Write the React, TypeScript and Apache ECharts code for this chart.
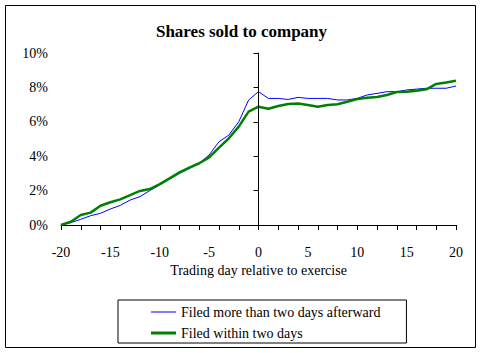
import React, { useEffect, useRef } from "react";
import * as echarts from "echarts";

const days = [-20,-19,-18,-17,-16,-15,-14,-13,-12,-11,-10,-9,-8,-7,-6,-5,-4,-3,-2,-1,0,1,2,3,4,5,6,7,8,9,10,11,12,13,14,15,16,17,18,19,20];
const filedLate = [0,0.14,0.33,0.54,0.68,0.93,1.14,1.45,1.65,2.0,2.33,2.67,3.0,3.29,3.59,4.07,4.84,5.23,6.0,7.27,7.75,7.36,7.36,7.3,7.42,7.36,7.36,7.36,7.27,7.27,7.36,7.56,7.65,7.75,7.75,7.85,7.9,7.95,7.95,7.95,8.08];
const filedOnTime = [0,0.19,0.58,0.72,1.12,1.32,1.49,1.74,1.98,2.09,2.38,2.71,3.06,3.33,3.59,3.93,4.5,5.04,5.72,6.59,6.88,6.76,6.92,7.03,7.07,6.98,6.88,6.98,7.02,7.17,7.33,7.4,7.44,7.56,7.73,7.75,7.81,7.89,8.2,8.28,8.39];
const seriesNames = ["Filed more than two days afterward", "Filed within two days"];
const exerciseLineTop = 9.4;

const FONT = "Liberation Serif";

// legend icons: a horizontal bar of given thickness, kept inside a 25x14 box by tiny corner marks
const barIcon = (thick: number) => {
  const y0 = 7 - thick / 2;
  const y1 = 7 + thick / 2;
  return `path://M0,0 L0.01,0 L0.01,0.01 Z M0,${y0} L25,${y0} L25,${y1} L0,${y1} Z M24.99,14 L25,14 L25,13.99 Z`;
};

export default function App() {
  const ref = useRef<HTMLDivElement>(null);
  useEffect(() => {
    document.body.style.margin = "0";
    const chart = echarts.init(ref.current!, null, { renderer: "svg" });
    const lateData = days.map((d, i) => [d, filedLate[i]]);
    const onTimeData = days.map((d, i) => [d, filedOnTime[i]]);
    chart.setOption({
      animation: false,
      backgroundColor: "#fff",
      textStyle: { fontFamily: FONT, color: "#000" },
      title: {
        text: "Shares sold to company",
        left: "center",
        top: 18,
        textStyle: { fontFamily: FONT, fontSize: 17, fontWeight: "bold", color: "#000" },
      },
      graphic: [
        {
          type: "rect",
          shape: { x: 5.5, y: 5.5, width: 470, height: 342 },
          style: { fill: "none", stroke: "#000", lineWidth: 1 },
          silent: true,
        },
      ],
      grid: { left: 61, right: 27, top: 53, bottom: 128, containLabel: false },
      legend: {
        orient: "vertical",
        left: 118,
        top: 300,
        padding: [5, 26, 3, 33],
        itemGap: 7,
        itemWidth: 25,
        itemHeight: 14,
        borderColor: "#000",
        borderWidth: 1,
        textStyle: { fontFamily: FONT, fontSize: 14, color: "#000" },
        data: [
          { name: seriesNames[0], icon: barIcon(1) },
          { name: seriesNames[1], icon: barIcon(3) },
        ],
      },
      xAxis: [
        {
          type: "value",
          min: -20,
          max: 20,
          interval: 2,
          axisLine: { lineStyle: { color: "#000", width: 1 } },
          axisTick: { show: true, length: 5, lineStyle: { color: "#000" } },
          axisLabel: { show: false },
          splitLine: { show: false },
        },
        {
          type: "value",
          position: "bottom",
          min: -20,
          max: 20,
          interval: 5,
          axisLine: { show: false },
          axisTick: { show: false },
          axisLabel: { show: true, margin: 20, fontFamily: FONT, fontSize: 14, color: "#000" },
          splitLine: { show: false },
          name: "Trading day relative to exercise",
          nameLocation: "middle",
          nameGap: 38,
          nameTextStyle: { fontFamily: FONT, fontSize: 14, color: "#000" },
        },
      ],
      yAxis: {
        type: "value",
        min: 0,
        max: 10,
        interval: 2,
        axisLine: { show: true, lineStyle: { color: "#000", width: 1 } },
        axisTick: { show: true, length: 5, lineStyle: { color: "#000" } },
        axisLabel: {
          margin: 13,
          fontFamily: FONT,
          fontSize: 14,
          color: "#000",
          formatter: (v: number) => `${v}%`,
        },
        splitLine: { show: false },
      },
      series: [
        {
          name: seriesNames[0],
          type: "line",
          xAxisIndex: 0,
          data: lateData,
          symbol: "none",
          lineStyle: { color: "#0000ff", width: 1 },
          itemStyle: { color: "#0000ff" },
          markLine: {
            silent: true,
            symbol: ["none", "none"],
            label: { show: false },
            lineStyle: { color: "#000", width: 1, type: "solid" },
            data: [[{ coord: [0, 0] }, { coord: [0, exerciseLineTop] }]],
          },
          z: 2,
        },
        {
          name: seriesNames[1],
          type: "line",
          xAxisIndex: 0,
          data: onTimeData,
          symbol: "none",
          lineStyle: { color: "#008000", width: 2.5 },
          itemStyle: { color: "#008000" },
          z: 3,
        },
      ],
    });
    return () => chart.dispose();
  }, []);
  return <div ref={ref} style={{ width: 483, height: 353 }} />;
}
